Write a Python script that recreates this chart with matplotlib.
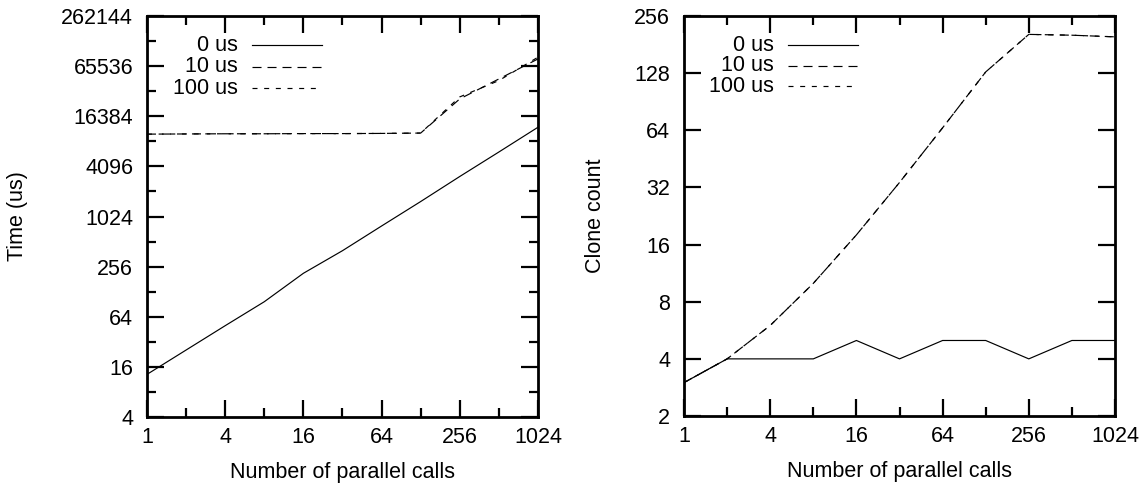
import matplotlib
matplotlib.use("Agg")
import matplotlib.pyplot as plt
from matplotlib.ticker import FixedLocator, FixedFormatter, NullFormatter
from matplotlib.lines import Line2D

plt.rcParams['font.family'] = ['Liberation Sans', 'DejaVu Sans']
plt.rcParams['lines.scale_dashes'] = False

# Number of parallel calls (x for both panels)
calls = [1, 2, 4, 8, 16, 32, 64, 128, 256, 512, 1024]

# Left panel: time (us)
time_0us = [13, 25.5, 50, 97, 213, 398, 788, 1550, 3100, 6100, 12100]
time_10us = [10000, 10050, 10100, 10100, 10150, 10150, 10200, 10300, 26500, 46000, 80000]
time_100us = [10000, 10050, 10100, 10100, 10150, 10150, 10200, 10300, 28000, 44000, 84000]

# Right panel: clone count
clones_0us = [3, 4, 4, 4, 5, 4, 5, 5, 4, 5, 5]
clones_10us = [3, 4, 6, 10, 18, 34, 66, 130, 205, 203, 199]
clones_100us = [3, 4, 6, 10, 18, 34, 66, 130, 205, 203, 199]

series_labels = ['0 us', '10 us', '100 us']

x_major = [1, 4, 16, 64, 256, 1024]
x_minor = [2, 8, 32, 128, 512]
time_major = [4, 16, 64, 256, 1024, 4096, 16384, 65536, 262144]
time_minor = [8, 32, 128, 512, 2048, 8192, 32768, 131072]
clone_major = [2, 4, 8, 16, 32, 64, 128, 256]

styles = ['-', (0, (6.5, 4.3)), (0, (3.6, 4.8))]
LW = 0.85
FS = 15.5

fig = plt.figure(figsize=(11.41, 4.83), dpi=100)
ax1 = fig.add_axes([0.1288, 0.1366, 0.3427, 0.8302])
ax2 = fig.add_axes([0.5995, 0.1387, 0.3777, 0.8280])


def style_axes(ax, ymajor, yminor, ylim, ylabel):
    ax.set_xscale('log', base=2)
    ax.set_yscale('log', base=2)
    ax.set_xlim(1, 1024)
    ax.set_ylim(*ylim)
    ax.xaxis.set_major_locator(FixedLocator(x_major))
    ax.xaxis.set_major_formatter(FixedFormatter([str(v) for v in x_major]))
    ax.xaxis.set_minor_locator(FixedLocator(x_minor))
    ax.xaxis.set_minor_formatter(NullFormatter())
    ax.yaxis.set_major_locator(FixedLocator(ymajor))
    ax.yaxis.set_major_formatter(FixedFormatter([str(v) for v in ymajor]))
    ax.yaxis.set_minor_locator(FixedLocator(yminor))
    ax.yaxis.set_minor_formatter(NullFormatter())
    ax.tick_params(which='both', direction='in', top=True, right=True,
                   width=1.6, labelsize=FS, colors='black')
    ax.tick_params(which='major', length=12)
    ax.tick_params(which='minor', length=6.3)
    ax.tick_params(axis='x', which='both', pad=7)
    ax.tick_params(axis='y', which='both', pad=10)
    for sp in ax.spines.values():
        sp.set_linewidth(2.0)
    ax.set_xlabel('Number of parallel calls', fontsize=FS, labelpad=10)
    ax.set_ylabel(ylabel, fontsize=FS)


style_axes(ax1, time_major, time_minor, (4, 262144), 'Time (us)')
style_axes(ax2, clone_major, [], (2, 256), 'Clone count')
ax1.yaxis.set_label_coords(-0.305, 0.5)
ax2.yaxis.set_label_coords(-0.181, 0.5)

for ys, ls in zip([time_0us, time_10us, time_100us], styles):
    ax1.plot(calls, ys, color='black', lw=LW, linestyle=ls)
for ys, ls in zip([clones_0us, clones_10us, clones_100us], styles):
    ax2.plot(calls, ys, color='black', lw=LW, linestyle=ls)


def key(ax, text_x, line_x0, line_x1, rows):
    for lab, ls, y in zip(series_labels, styles, rows):
        ax.text(text_x, y, lab, transform=ax.transAxes, ha='right', va='center',
                fontsize=FS)
        ax.add_line(Line2D([line_x0, line_x1], [y, y], transform=ax.transAxes,
                           color='black', lw=LW, linestyle=ls))


key(ax1, 0.2327, 0.2678, 0.4468, [0.9275, 0.8735, 0.8195])
key(ax2, 0.2088, 0.2413, 0.4037, [0.9275, 0.876, 0.824])

fig.savefig('out.png', dpi=100)
